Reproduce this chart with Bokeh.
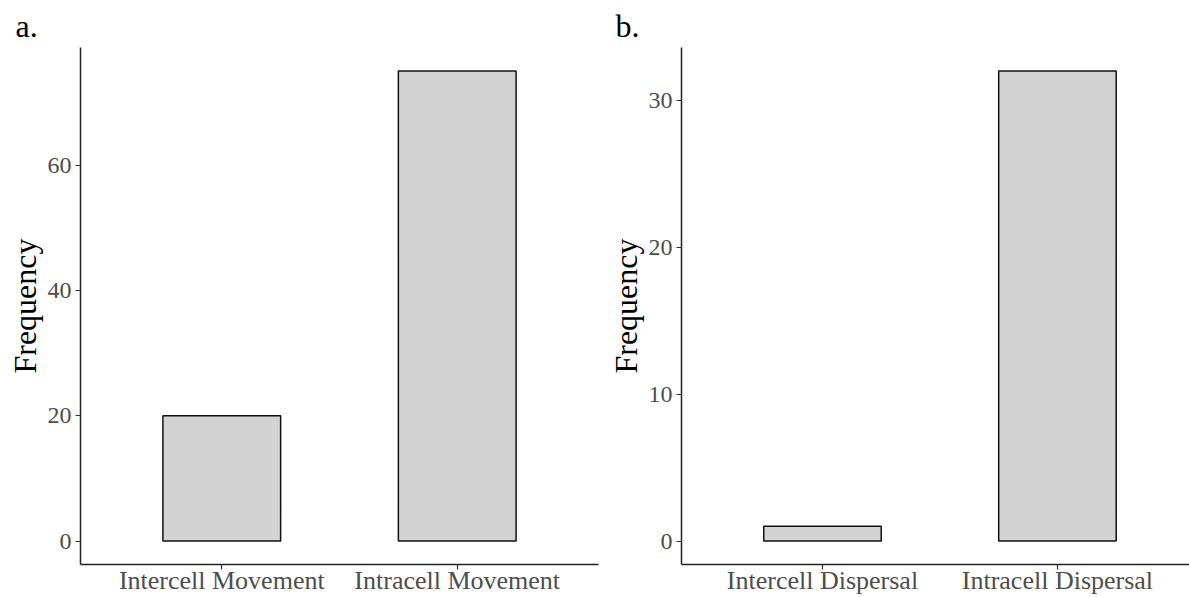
from bokeh.plotting import figure
from bokeh.layouts import row
from bokeh.models import Range1d, FixedTicker
from bokeh.embed import file_html
from bokeh.resources import INLINE

# ---- data ----
tags = ["a.", "b."]
cats_a = ["Intercell Movement", "Intracell Movement"]
freq_a = [20, 75]
yticks_a = [0, 20, 40, 60]

cats_b = ["Intercell Dispersal", "Intracell Dispersal"]
freq_b = [1, 32]
yticks_b = [0, 10, 20, 30]

FONT = "Liberation Serif"


def panel(tag, cats, freq, yticks, width, border_left, border_right, x_end, title_offset):
    xs = list(range(1, len(cats) + 1))
    ymax = max(freq)
    pad = 0.05 * ymax
    p = figure(width=width, height=597, output_backend="svg", toolbar_location=None,
               x_range=Range1d(0.4, x_end), y_range=Range1d(-pad, ymax + pad),
               min_border_left=border_left, min_border_right=border_right,
               min_border_top=47, min_border_bottom=31)
    p.vbar(x=xs, top=freq, bottom=0, width=0.5, fill_color="#D3D3D3",
           line_color="#111111", line_width=1.5)

    p.title.text = tag
    p.title.text_font = FONT
    p.title.text_font_size = "32px"
    p.title.text_font_style = "normal"
    p.title.text_color = "#000000"
    p.title.align = "left"
    p.title.vertical_align = "bottom"
    p.title.offset = title_offset
    p.title.standoff = 8

    p.xgrid.grid_line_color = None
    p.ygrid.grid_line_color = None
    p.outline_line_color = None

    p.xaxis.ticker = FixedTicker(ticks=xs)
    p.xaxis.major_label_overrides = {x: c for x, c in zip(xs, cats)}
    p.yaxis.ticker = FixedTicker(ticks=yticks)
    p.yaxis.axis_label = "Frequency"

    for ax in (p.xaxis[0], p.yaxis[0]):
        ax.axis_line_color = "#222222"
        ax.axis_line_width = 1.5
        ax.major_tick_line_color = "#333333"
        ax.major_tick_line_width = 1.2
        ax.major_tick_in = 0
        ax.major_tick_out = 5
        ax.minor_tick_line_color = None
        ax.major_label_text_font = FONT
        ax.major_label_text_color = "#4D4D4D"
        ax.axis_label_text_font = FONT
        ax.axis_label_text_font_size = "32px"
        ax.axis_label_text_font_style = "normal"
        ax.axis_label_text_color = "#000000"
    p.xaxis.major_label_text_font_size = "26px"
    p.yaxis.major_label_text_font_size = "24px"
    p.xaxis.major_label_standoff = -4
    p.yaxis.major_label_standoff = 4
    p.yaxis.axis_label_standoff = 2
    return p


pa = panel(tags[0], cats_a, freq_a, yticks_a, 600, 80, 2, 2.6, -65)
pb = panel(tags[1], cats_b, freq_b, yticks_b, 589, 81, 0, 2.562, -66)

layout = row(pa, pb)
open("out.html", "w").write(file_html(layout, INLINE))
